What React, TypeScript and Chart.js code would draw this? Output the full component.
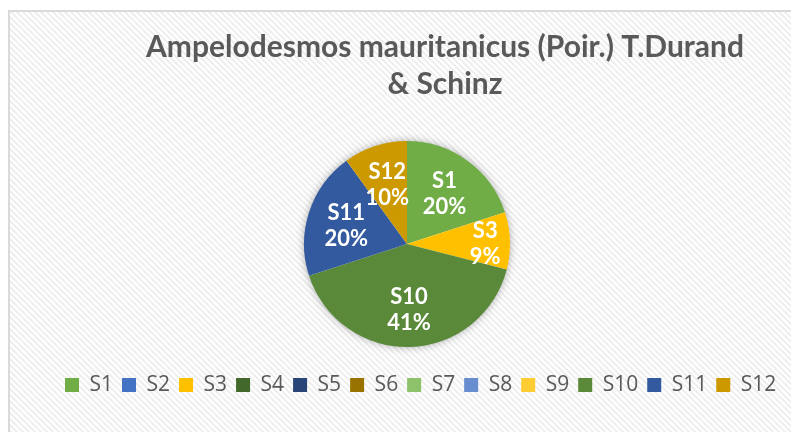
import React, { useEffect, useRef } from 'react';
import { Chart, registerables } from 'chart.js';

Chart.register(...registerables);

const TITLE_LINES = ['Ampelodesmos mauritanicus (Poir.) T.Durand', '& Schinz'];
const CATEGORIES = ['S1', 'S2', 'S3', 'S4', 'S5', 'S6', 'S7', 'S8', 'S9', 'S10', 'S11', 'S12'];
const VALUES = [20, 0, 9, 0, 0, 0, 0, 0, 0, 41, 20, 10];
const COLORS = [
  '#70AD47', '#4472C4', '#FFC000', '#43682B', '#294476', '#997300',
  '#8DC16A', '#698ED0', '#FFCD33', '#5A8A39', '#335A9E', '#CC9A00',
];

const CANVAS_W = 874;
const CANVAS_H = 422;
const FONT = 'Lato, "Open Sans", sans-serif';
const LEGEND_FONT = '"Open Sans", Lato, sans-serif';

function fitFontSize(text: string, weight: string, target: number): number {
  const c = document.createElement('canvas').getContext('2d');
  if (!c) return 28;
  c.font = `${weight} 100px ${FONT}`;
  const w = c.measureText(text).width;
  return Math.round((100 * target) / w * 10) / 10;
}

const bgPlugin = {
  id: 'bgHatch',
  beforeDraw(chart: any) {
    const { ctx, width, height } = chart;
    const tile = document.createElement('canvas');
    tile.width = 6;
    tile.height = 6;
    const t = tile.getContext('2d')!;
    t.fillStyle = '#ffffff';
    t.fillRect(0, 0, 6, 6);
    t.fillStyle = '#efefef';
    for (let y = 0; y < 6; y++) {
      for (let x = 0; x < 6; x++) {
        if ((((x - y) % 6) + 6) % 6 < 3) t.fillRect(x, y, 1, 1);
      }
    }
    ctx.save();
    ctx.fillStyle = ctx.createPattern(tile, 'repeat');
    ctx.fillRect(0, 0, width, height);
    ctx.fillStyle = '#dadada';
    ctx.fillRect(0, 0, width, 2);
    ctx.fillRect(0, 0, 2, height);
    ctx.restore();
  },
};

const plotShiftPlugin = {
  id: 'plotShift',
  afterLayout(chart: any, _args: any, opts: any) {
    const a = chart.chartArea;
    a.left += opts.dx || 0;
    a.right += opts.dx || 0;
  },
};

const pieShadowPlugin = {
  id: 'pieShadow',
  beforeDatasetsDraw(chart: any) {
    const meta = chart.getDatasetMeta(0);
    const arc = meta.data[0];
    if (!arc) return;
    const { x, y, outerRadius } = arc.getProps(['x', 'y', 'outerRadius'], true);
    const ctx = chart.ctx;
    ctx.save();
    ctx.shadowColor = 'rgba(0,0,0,0.35)';
    ctx.shadowBlur = 9;
    ctx.fillStyle = '#ffffff';
    ctx.beginPath();
    ctx.arc(x, y, outerRadius - 0.5, 0, Math.PI * 2);
    ctx.fill();
    ctx.restore();
  },
};

const sliceLabelPlugin = {
  id: 'sliceLabels',
  afterDatasetsDraw(chart: any, _args: any, opts: any) {
    const meta = chart.getDatasetMeta(0);
    const data: number[] = chart.data.datasets[0].data;
    const total = data.reduce((s, v) => s + v, 0);
    const ctx = chart.ctx;
    ctx.save();
    ctx.fillStyle = '#ffffff';
    ctx.font = `bold ${opts.size}px ${FONT}`;
    ctx.textAlign = 'center';
    ctx.textBaseline = 'middle';
    meta.data.forEach((arc: any, i: number) => {
      const v = data[i];
      if (!v) return;
      const { x, y, startAngle, endAngle, outerRadius } = arc.getProps(
        ['x', 'y', 'startAngle', 'endAngle', 'outerRadius'],
        true
      );
      const mid = (startAngle + endAngle) / 2;
      const span = endAngle - startAngle;
      const f = span < 0.58 ? 0.76 : 0.62;
      const cx = x + Math.cos(mid) * outerRadius * f;
      const cy = y + Math.sin(mid) * outerRadius * f + 2;
      ctx.fillText(String(chart.data.labels[i]), cx, cy - opts.lineHeight / 2);
      ctx.fillText(Math.round((v / total) * 100) + '%', cx, cy + opts.lineHeight / 2);
    });
    ctx.restore();
  },
};

export default function App() {
  const ref = useRef<HTMLCanvasElement | null>(null);

  useEffect(() => {
    if (!ref.current) return;
    const titleSize = fitFontSize(TITLE_LINES[0], 'bold', 599);
    const chart = new Chart(ref.current, {
      type: 'pie',
      data: {
        labels: CATEGORIES,
        datasets: [
          {
            data: VALUES,
            backgroundColor: COLORS,
            borderWidth: 0,
            radius: 103,
            clip: false,
          } as any,
        ],
      },
      options: {
        responsive: false,
        maintainAspectRatio: false,
        animation: false,
        radius: 103,
        layout: { padding: { left: 48, right: 48, top: 0, bottom: 26.5 } },
        plugins: {
          title: {
            display: true,
            text: TITLE_LINES,
            color: '#595959',
            font: { family: FONT, weight: 'bold', size: titleSize, lineHeight: '37px' },
            padding: { top: 18.5, bottom: 20 },
          },
          legend: {
            position: 'bottom',
            align: 'start',
            labels: {
              boxWidth: 14,
              boxHeight: 14,
              padding: 9,
              color: '#595959',
              font: { family: LEGEND_FONT, size: 21 },
            },
          },
          tooltip: { enabled: false },
          plotShift: { dx: -38 },
          sliceLabels: { size: 22, lineHeight: 26 },
        } as any,
      } as any,
      plugins: [bgPlugin, plotShiftPlugin, pieShadowPlugin, sliceLabelPlugin],
    });
    return () => chart.destroy();
  }, []);

  return (
    <div
      style={{
        position: 'fixed',
        left: 8,
        top: 10,
        width: 783,
        height: CANVAS_H,
        overflow: 'hidden',
      }}
    >
      <canvas
        ref={ref}
        width={CANVAS_W}
        height={CANVAS_H}
        style={{ display: 'block', width: CANVAS_W, height: CANVAS_H }}
      />
    </div>
  );
}
